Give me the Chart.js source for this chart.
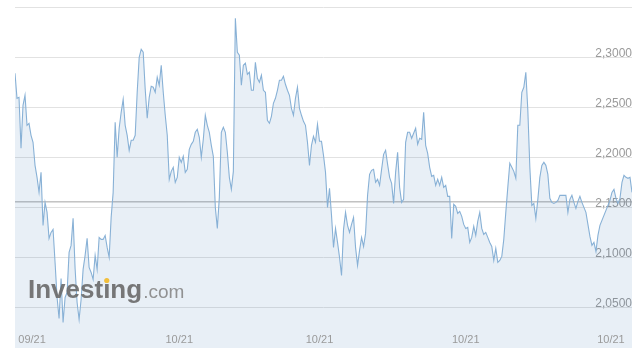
<!DOCTYPE html>
<html>
<head>
<meta charset="utf-8">
<script src="https://cdn.jsdelivr.net/npm/chart.js@4.4.1/dist/chart.umd.min.js"></script>
<style>
  html, body { margin: 0; padding: 0; background: #ffffff; }
  #wrap { width: 640px; height: 358px; position: relative; }
</style>
</head>
<body>
<div id="wrap"><canvas id="c" width="640" height="358"></canvas></div>
<script>
// ---- data ----
const prices = [
  2.284,2.259,2.260,2.209,2.252,2.262,2.232,2.234,2.222,2.215,
  2.192,2.180,2.165,2.185,2.132,2.155,2.145,2.119,2.125,2.128,
  2.095,2.060,2.039,2.079,2.035,2.060,2.065,2.105,2.112,2.139,
  2.089,2.055,2.038,2.058,2.088,2.102,2.119,2.090,2.085,2.078,
  2.102,2.088,2.120,2.118,2.118,2.122,2.110,2.100,2.140,2.165,
  2.235,2.200,2.229,2.245,2.258,2.232,2.222,2.207,2.217,2.217,
  2.222,2.265,2.300,2.308,2.305,2.268,2.239,2.260,2.271,2.270,
  2.265,2.280,2.272,2.292,2.265,2.242,2.222,2.178,2.186,2.190,
  2.175,2.180,2.200,2.195,2.201,2.185,2.188,2.208,2.213,2.216,
  2.225,2.228,2.220,2.200,2.218,2.242,2.232,2.225,2.212,2.201,
  2.150,2.129,2.160,2.225,2.230,2.225,2.205,2.180,2.168,2.186,
  2.339,2.305,2.302,2.272,2.292,2.294,2.283,2.285,2.267,2.267,
  2.295,2.279,2.275,2.282,2.267,2.265,2.237,2.234,2.241,2.254,
  2.259,2.267,2.277,2.277,2.281,2.273,2.267,2.262,2.249,2.242,
  2.259,2.270,2.249,2.242,2.236,2.232,2.215,2.192,2.212,2.221,
  2.215,2.233,2.216,2.216,2.202,2.185,2.150,2.169,2.142,2.110,
  2.129,2.115,2.100,2.082,2.128,2.145,2.132,2.125,2.133,2.140,
  2.110,2.092,2.107,2.120,2.111,2.124,2.162,2.183,2.187,2.188,
  2.175,2.178,2.172,2.188,2.203,2.207,2.193,2.180,2.174,2.154,
  2.185,2.205,2.170,2.155,2.158,2.215,2.225,2.225,2.219,2.224,
  2.229,2.213,2.219,2.218,2.245,2.212,2.204,2.190,2.181,2.182,
  2.172,2.178,2.172,2.180,2.170,2.172,2.161,2.161,2.119,2.153,
  2.151,2.144,2.146,2.141,2.133,2.129,2.130,2.115,2.120,2.131,
  2.122,2.136,2.145,2.129,2.123,2.125,2.120,2.115,2.111,2.097,
  2.109,2.095,2.097,2.101,2.118,2.145,2.170,2.194,2.190,2.186,
  2.179,2.232,2.232,2.265,2.270,2.285,2.247,2.190,2.152,2.154,
  2.139,2.158,2.180,2.192,2.195,2.192,2.183,2.159,2.155,2.154,
  2.155,2.157,2.162,2.162,2.162,2.162,2.145,2.158,2.162,2.155,
  2.149,2.156,2.161,2.155,2.150,2.145,2.133,2.121,2.112,2.115,
  2.106,2.122,2.132,2.137,2.142,2.147,2.152,2.157,2.165,2.168,
  2.159,2.154,2.159,2.175,2.182,2.180,2.179,2.180,2.165
];
const lastPrice = 2.1555;
const xTickIndex = [8.5, 82, 152, 225, 297.5];
const xTickLabels = ['09/21', '10/21', '10/21', '10/21', '10/21'];
const yTickValues = [2.05, 2.10, 2.15, 2.20, 2.25, 2.30, 2.35];
const yTickLabels = ['2,0500', '2,1000', '2,1500', '2,2000', '2,2500', '2,3000', ''];
const yMin = 2.0095, yMax = 2.35;

const indexLabels = prices.map((_, i) => i);

// x-axis labels drawn inside the plot area, placed by the library's x scale
const innerXLabels = {
  id: 'innerXLabels',
  afterDraw(chart) {
    const ctx = chart.ctx;
    const xs = chart.scales.x;
    const area = chart.chartArea;
    ctx.save();
    ctx.font = '11px "Liberation Sans", Arial, sans-serif';
    ctx.fillStyle = '#9a9a9a';
    ctx.textAlign = 'center';
    ctx.textBaseline = 'middle';
    xTickIndex.forEach((v, i) => {
      ctx.fillText(xTickLabels[i], xs.getPixelForValue(v), area.bottom - 8);
    });
    ctx.restore();
  }
};

const watermark = {
  id: 'watermark',
  afterDatasetsDraw(chart) {
    const ctx = chart.ctx;
    ctx.save();
    ctx.globalAlpha = 0.92;
    ctx.textBaseline = 'alphabetic';
    ctx.textAlign = 'left';
    ctx.font = 'bold 26px "Liberation Sans", Arial, sans-serif';
    ctx.fillStyle = '#6d6d6d';
    const word = 'Investing';
    ctx.fillText(word, 28, 298);
    const w = ctx.measureText(word).width;
    const pre = ctx.measureText('Invest').width;
    const iw = ctx.measureText('i').width;
    ctx.font = '19px "Liberation Sans", Arial, sans-serif';
    ctx.fillStyle = '#8a8a8a';
    ctx.fillText('.com', 28 + w + 1, 298);
    ctx.globalAlpha = 1;
    ctx.fillStyle = '#f2bf3c';
    ctx.beginPath();
    ctx.arc(28 + pre + iw / 2, 280.5, 2.6, 0, Math.PI * 2);
    ctx.fill();
    ctx.restore();
  }
};

new Chart(document.getElementById('c'), {
  type: 'line',
  data: {
    labels: indexLabels,
    datasets: [
      {
        data: prices,
        borderColor: '#88b1d6',
        borderWidth: 1.1,
        backgroundColor: 'rgba(30,100,170,0.10)',
        fill: 'start',
        pointRadius: 0,
        tension: 0
      },
      {
        data: [{x: 0, y: lastPrice}, {x: prices.length - 1, y: lastPrice}],
        borderColor: '#a3a3a3',
        borderWidth: 1,
        fill: false,
        pointRadius: 0
      }
    ]
  },
  options: {
    responsive: false,
    animation: false,
    events: [],
    layout: { padding: { left: 15, right: 8, top: 7, bottom: 10 } },
    plugins: { legend: { display: false }, tooltip: { enabled: false } },
    scales: {
      x: {
        type: 'linear',
        display: false,
        min: 0,
        max: prices.length - 1,
        bounds: 'data'
      },
      y: {
        type: 'linear',
        position: 'right',
        min: yMin,
        max: yMax,
        bounds: 'data',
        grid: { color: '#e2e2e2', drawTicks: false, lineWidth: 1 },
        border: { display: false },
        afterBuildTicks(scale) { scale.ticks = yTickValues.map(v => ({ value: v })); },
        ticks: {
          mirror: true,
          padding: 0,
          labelOffset: -4,
          color: '#9a9a9a',
          font: { family: '"Liberation Sans", Arial, sans-serif', size: 12 },
          callback: (v, i) => yTickLabels[i]
        }
      }
    }
  },
  plugins: [watermark, innerXLabels]
});
</script>
</body>
</html>
